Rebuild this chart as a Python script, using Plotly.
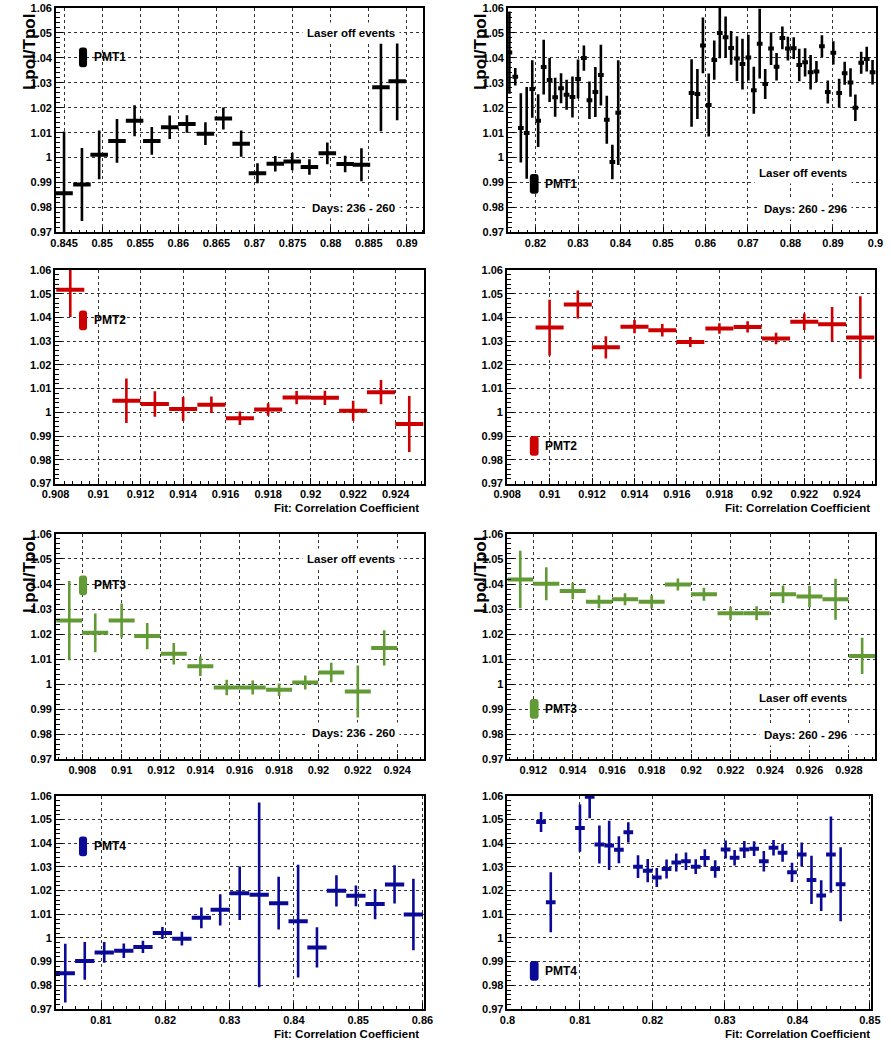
import plotly.graph_objects as go

W, H = 891, 1055

# ---- values ----
# PMT1, days 236-260
pmt1_a_x = [0.845, 0.84735, 0.84961, 0.85195, 0.85426, 0.85652, 0.85887, 0.86113, 0.86356, 0.86591,
            0.86825, 0.87039, 0.87273, 0.87495, 0.87721, 0.87956, 0.8819, 0.88404, 0.8866, 0.88873]
pmt1_a_y = [0.9857, 0.9892, 1.0011, 1.0067, 1.0148, 1.0067, 1.0122, 1.0135, 1.0096, 1.0157,
            1.0056, 0.9937, 0.9975, 0.9984, 0.9962, 1.0017, 0.9974, 0.9971, 1.0282, 1.0306]
pmt1_a_err = [0.0248, 0.0146, 0.0098, 0.0088, 0.0062, 0.0056, 0.0047, 0.0035, 0.0046, 0.0044,
              0.0053, 0.004, 0.0031, 0.0035, 0.0031, 0.0044, 0.0033, 0.0066, 0.0176, 0.0156]

# PMT1, days 260-296
pmt1_b_x = [0.81385, 0.81523, 0.81654, 0.81792, 0.81923, 0.82062, 0.82192, 0.82331, 0.82462, 0.826,
            0.82731, 0.82869, 0.83, 0.83138, 0.83269, 0.83408, 0.83538, 0.83677, 0.83808, 0.83946,
            0.85672, 0.85809, 0.85939, 0.86076, 0.86206, 0.86336, 0.86473, 0.86603, 0.8674, 0.8687,
            0.87008, 0.87137, 0.87275, 0.87405, 0.87542, 0.87672, 0.87809, 0.87939, 0.88076, 0.88206,
            0.88344, 0.88473, 0.88611, 0.8874, 0.88878, 0.89008, 0.89145, 0.89275, 0.89412, 0.89527,
            0.89664, 0.89794, 0.89931]
pmt1_b_y = [1.0421, 1.0324, 1.0119, 1.0099, 1.0275, 1.0148, 1.0363, 1.0311, 1.0242, 1.0278,
            1.0252, 1.0243, 1.0315, 1.0399, 1.023, 1.0263, 1.0331, 1.0152, 0.9982, 1.018,
            1.0259, 1.0255, 1.045, 1.0211, 1.0391, 1.05, 1.0483, 1.044, 1.0397, 1.0375,
            1.0401, 1.027, 1.0457, 1.0295, 1.0437, 1.0364, 1.048, 1.0437, 1.0439, 1.0371,
            1.0382, 1.0342, 1.0345, 1.0447, 1.0263, 1.042, 1.0259, 1.0338, 1.0301, 1.02,
            1.038, 1.0395, 1.0342]
pmt1_b_err = [0.0165, 0.0035, 0.0139, 0.0184, 0.0115, 0.0106, 0.011, 0.0088, 0.0078, 0.006,
              0.006, 0.0082, 0.0078, 0.0051, 0.0075, 0.01, 0.0122, 0.0096, 0.0069, 0.021,
              0.0135, 0.01, 0.0112, 0.0126, 0.0079, 0.0102, 0.0083, 0.0068, 0.009, 0.0102,
              0.0092, 0.0094, 0.014, 0.006, 0.0066, 0.0055, 0.0046, 0.0048, 0.0044, 0.0065,
              0.0057, 0.0069, 0.0042, 0.0044, 0.0046, 0.0047, 0.0057, 0.0046, 0.0057, 0.0053,
              0.0044, 0.005, 0.0049]

# PMT2
pmt2_a_x = [0.90869, 0.91133, 0.91267, 0.914, 0.91533, 0.91667, 0.918, 0.91934, 0.92067, 0.922, 0.92331, 0.92464]
pmt2_a_y = [1.0517, 1.0049, 1.0035, 1.0014, 1.0032, 0.9975, 1.0012, 1.0062, 1.0061, 1.0007, 1.0085, 0.9951]
pmt2_a_err = [0.0115, 0.0094, 0.0054, 0.0051, 0.0035, 0.0028, 0.0026, 0.0028, 0.003, 0.0042, 0.0051, 0.0118]

pmt2_b_x = [0.91, 0.91133, 0.91265, 0.914, 0.91531, 0.91663, 0.918, 0.91933, 0.92067, 0.922, 0.92331, 0.92464]
pmt2_b_y = [1.0357, 1.0454, 1.0274, 1.0361, 1.0346, 1.0296, 1.0353, 1.036, 1.0311, 1.0382, 1.0371, 1.0315]
pmt2_b_err = [0.0117, 0.0059, 0.0047, 0.0028, 0.0026, 0.0021, 0.0022, 0.0024, 0.0024, 0.0035, 0.0073, 0.0174]

# PMT3
pmt3_a_x = [0.90734, 0.90866, 0.91, 0.9113, 0.91265, 0.914, 0.91534, 0.91666, 0.918, 0.91933, 0.92065, 0.922, 0.92334]
pmt3_a_y = [1.0254, 1.0205, 1.0254, 1.0192, 1.0122, 1.0072, 0.9987, 0.9987, 0.9978, 1.0007, 1.0047, 0.9971, 1.0145]
pmt3_a_err = [0.0158, 0.0077, 0.0068, 0.0052, 0.0043, 0.0039, 0.0031, 0.0028, 0.0025, 0.0028, 0.0039, 0.0104, 0.007]

pmt3_b_x = [0.91134, 0.91266, 0.914, 0.91533, 0.91665, 0.918, 0.91933, 0.92065, 0.922, 0.92332,
            0.92466, 0.926, 0.92732, 0.92867]
pmt3_b_y = [1.0418, 1.0401, 1.0372, 1.0329, 1.0339, 1.0329, 1.0398, 1.0359, 1.0283, 1.0283,
            1.0359, 1.035, 1.0339, 1.0113]
pmt3_b_err = [0.0115, 0.0066, 0.0033, 0.0026, 0.0024, 0.0026, 0.0024, 0.0026, 0.0026, 0.0028,
              0.0035, 0.0043, 0.0082, 0.0072]

# PMT4
pmt4_a_x = [0.80444, 0.80747, 0.8105, 0.81354, 0.81652, 0.81955, 0.82258, 0.82561, 0.82854, 0.83157,
            0.8346, 0.83763, 0.84066, 0.84359, 0.84662, 0.84965, 0.85263, 0.85566, 0.85859]
pmt4_a_y = [0.9851, 0.9903, 0.9939, 0.9946, 0.9962, 1.0021, 0.9997, 1.0085, 1.0119, 1.0189,
            1.0182, 1.0147, 1.0071, 0.996, 1.0199, 1.0178, 1.0143, 1.0226, 1.0099]
pmt4_a_err = [0.0124, 0.008, 0.0044, 0.0031, 0.0026, 0.0025, 0.0029, 0.0044, 0.0066, 0.0113,
              0.039, 0.0111, 0.0238, 0.0085, 0.0066, 0.0044, 0.0064, 0.0081, 0.0151]

pmt4_b_x = [0.80463, 0.80597, 0.81, 0.81134, 0.81268, 0.81403, 0.81537, 0.81667, 0.81801, 0.81935,
            0.8206, 0.82195, 0.82329, 0.82463, 0.82597, 0.82723, 0.82866, 0.8301, 0.83134, 0.83268,
            0.83403, 0.83537, 0.83671, 0.83796, 0.83926, 0.8406, 0.84195, 0.84329, 0.84463, 0.84597]
pmt4_b_y = [1.049, 1.0151, 1.0464, 1.0596, 1.0395, 1.0391, 1.0373, 1.0446, 1.0301, 1.0284,
            1.0255, 1.0291, 1.0319, 1.0324, 1.0301, 1.0338, 1.0291, 1.0374, 1.0339, 1.0374,
            1.0377, 1.0324, 1.0381, 1.036, 1.0277, 1.0353, 1.0245, 1.0179, 1.0352, 1.0227]
pmt4_b_err = [0.0042, 0.0127, 0.01, 0.009, 0.008, 0.0104, 0.0057, 0.0043, 0.0048, 0.0049,
              0.004, 0.004, 0.0038, 0.0037, 0.0031, 0.0037, 0.0037, 0.0038, 0.0033, 0.0036,
              0.0031, 0.0043, 0.0033, 0.0038, 0.0041, 0.005, 0.0102, 0.0065, 0.0161, 0.0156]

# half bin widths (horizontal error bars)
half_bins = [0.00115, 0.00067, 0.00066, 0.00066, 0.00066, 0.00066, 0.0015, 0.00067]

labels = ["PMT1", "PMT1", "PMT2", "PMT2", "PMT3", "PMT3", "PMT4", "PMT4"]
colors = ["#000000", "#000000", "#cc0000", "#cc0000", "#629a35", "#629a35", "#0a0a96", "#0a0a96"]
days = [["Laser off events", "Days: 236 - 260"], ["Laser off events", "Days: 260 - 296"]]

y_range = [0.97, 1.06]
x_ranges = [[0.84393, 0.89214], [0.8135, 0.90016], [0.90799, 0.92534], [0.90799, 0.92534],
            [0.90666, 0.92537], [0.91069, 0.92933], [0.80298, 0.86026], [0.79999, 0.8502]]
x_tick0 = [0.845, 0.82, 0.908, 0.908, 0.908, 0.912, 0.81, 0.8]
x_dtick = [0.005, 0.01, 0.002, 0.002, 0.002, 0.002, 0.01, 0.01]

series = [
    (pmt1_a_x, pmt1_a_y, pmt1_a_err), (pmt1_b_x, pmt1_b_y, pmt1_b_err),
    (pmt2_a_x, pmt2_a_y, pmt2_a_err), (pmt2_b_x, pmt2_b_y, pmt2_b_err),
    (pmt3_a_x, pmt3_a_y, pmt3_a_err), (pmt3_b_x, pmt3_b_y, pmt3_b_err),
    (pmt4_a_x, pmt4_a_y, pmt4_a_err), (pmt4_b_x, pmt4_b_y, pmt4_b_err),
]

# ---- panel placement in pixels (left, right, top, bottom) ----
boxes = [
    (43, 420, 2, 229), (507, 885, 2, 229),
    (42.5, 421, 267, 483), (506, 884, 267, 483),
    (43, 421, 534, 762), (506.5, 884, 534, 762),
    (43, 421, 799, 1014.5), (506.5, 880, 799, 1014.5),
]

FONT = "Liberation Sans, Arial, Helvetica, sans-serif"
TXT = 11.5


def px(x):
    return x / W


def py(y):
    return 1 - y / H


def rounded_box(x0, x1, y0, y1, r=3):
    rx, ry = r / W, r / H
    a, b = px(x0), px(x1)
    top, bot = py(y0), py(y1)
    return (f"M {a + rx},{top} L {b - rx},{top} Q {b},{top} {b},{top - ry} "
            f"L {b},{bot + ry} Q {b},{bot} {b - rx},{bot} L {a + rx},{bot} "
            f"Q {a},{bot} {a},{bot + ry} L {a},{top - ry} Q {a},{top} {a + rx},{top} Z")


fig = go.Figure()
layout = {}
shapes = []
annotations = []

for i, ((xs, ys, es), (l, r, t, b)) in enumerate(zip(series, boxes)):
    n = i + 1
    suffix = "" if n == 1 else str(n)
    fig.add_trace(go.Scatter(
        x=xs, y=ys,
        mode="markers",
        marker=dict(size=1, color=colors[i]),
        error_x=dict(type="constant", value=half_bins[i], thickness=4, width=0, color=colors[i]),
        error_y=dict(type="data", array=es, thickness=2.6, width=0, color=colors[i]),
        xaxis="x" + suffix, yaxis="y" + suffix,
        showlegend=False,
    ))
    axis_common = dict(
        showline=True, linecolor="black", linewidth=1.5, mirror=True,
        showgrid=True, gridcolor="#333333", griddash="dot", gridwidth=1,
        zeroline=False, ticks="inside", tickcolor="black", tickwidth=1,
        tickfont=dict(family=FONT, size=11, color="black", weight="bold"),
    )
    layout["xaxis" + suffix] = dict(
        axis_common, domain=[px(l), px(r)], anchor="y" + suffix,
        range=x_ranges[i], tick0=x_tick0[i], dtick=x_dtick[i], ticklen=6,
        minor=dict(tick0=x_tick0[i], dtick=x_dtick[i] / 5, ticks="inside", ticklen=3,
                   tickcolor="black", showgrid=False),
    )
    layout["yaxis" + suffix] = dict(
        axis_common, domain=[py(b), py(t)], anchor="x" + suffix,
        range=y_range, tick0=0.97, dtick=0.01, ticklen=7,
        minor=dict(tick0=0.97, dtick=0.002, ticks="inside", ticklen=4,
                   tickcolor="black", showgrid=False),
    )

    right_col = i % 2 == 1
    row = i // 2

    # legend swatch and label
    if not right_col:
        lx0, lx1 = 66.7, 75
        ly = [52, 318, 586, 850][row]
    else:
        lx0, lx1 = 529.5, 538.5
        ly = [180, 445, 711, 976][row]
    shapes.append(dict(type="path", path=rounded_box(lx0, lx1, ly - 10, ly + 10),
                       xref="paper", yref="paper", fillcolor=colors[i], line=dict(width=0)))
    annotations.append(dict(text=labels[i], x=px(lx1 + 5), y=py(ly), xref="paper", yref="paper",
                            xanchor="left", yanchor="middle", showarrow=False,
                            font=dict(family=FONT, size=TXT + 0.5, color="black", weight="bold")))

    # y title
    if row in (0, 2):
        tx = 16 if not right_col else 479
        ty = 47 if row == 0 else 576
        annotations.append(dict(text="Lpol/Tpol", x=px(tx), y=py(ty), xref="paper", yref="paper",
                                textangle=-90, showarrow=False, xanchor="center", yanchor="middle",
                                font=dict(family=FONT, size=17, color="black", weight="bold")))
        # "Laser off events" / "Days" labels on white boxes that hide the grid
        if not right_col:
            rows_y = [27, 204] if row == 0 else [559, 735]
            text_right = 396
        else:
            rows_y = [169, 205] if row == 0 else [700, 737]
            text_right = 860
        for k, yy in enumerate(rows_y):
            annotations.append(dict(text=days[1 if right_col else 0][k], x=px(text_right), y=py(yy),
                                    xref="paper", yref="paper", xanchor="right", yanchor="middle",
                                    showarrow=False, bgcolor="white", borderpad=4,
                                    font=dict(family=FONT, size=TXT, color="black", weight="bold")))

    # x title
    if row in (1, 3):
        annotations.append(dict(text="Fit: Correlation Coefficient",
                                x=px(418 if not right_col else 881), y=py(508 if row == 1 else 1040),
                                xref="paper", yref="paper", xanchor="right", yanchor="middle",
                                showarrow=False,
                                font=dict(family=FONT, size=TXT, color="black", weight="bold")))

fig.update_layout(
    width=W, height=H, autosize=False,
    margin=dict(l=0, r=0, t=0, b=0),
    paper_bgcolor="white", plot_bgcolor="white",
    shapes=shapes, annotations=annotations,
    **layout,
)

fig.write_html("out.html", config={"displayModeBar": False},
               post_script="document.body.style.margin='0';")
